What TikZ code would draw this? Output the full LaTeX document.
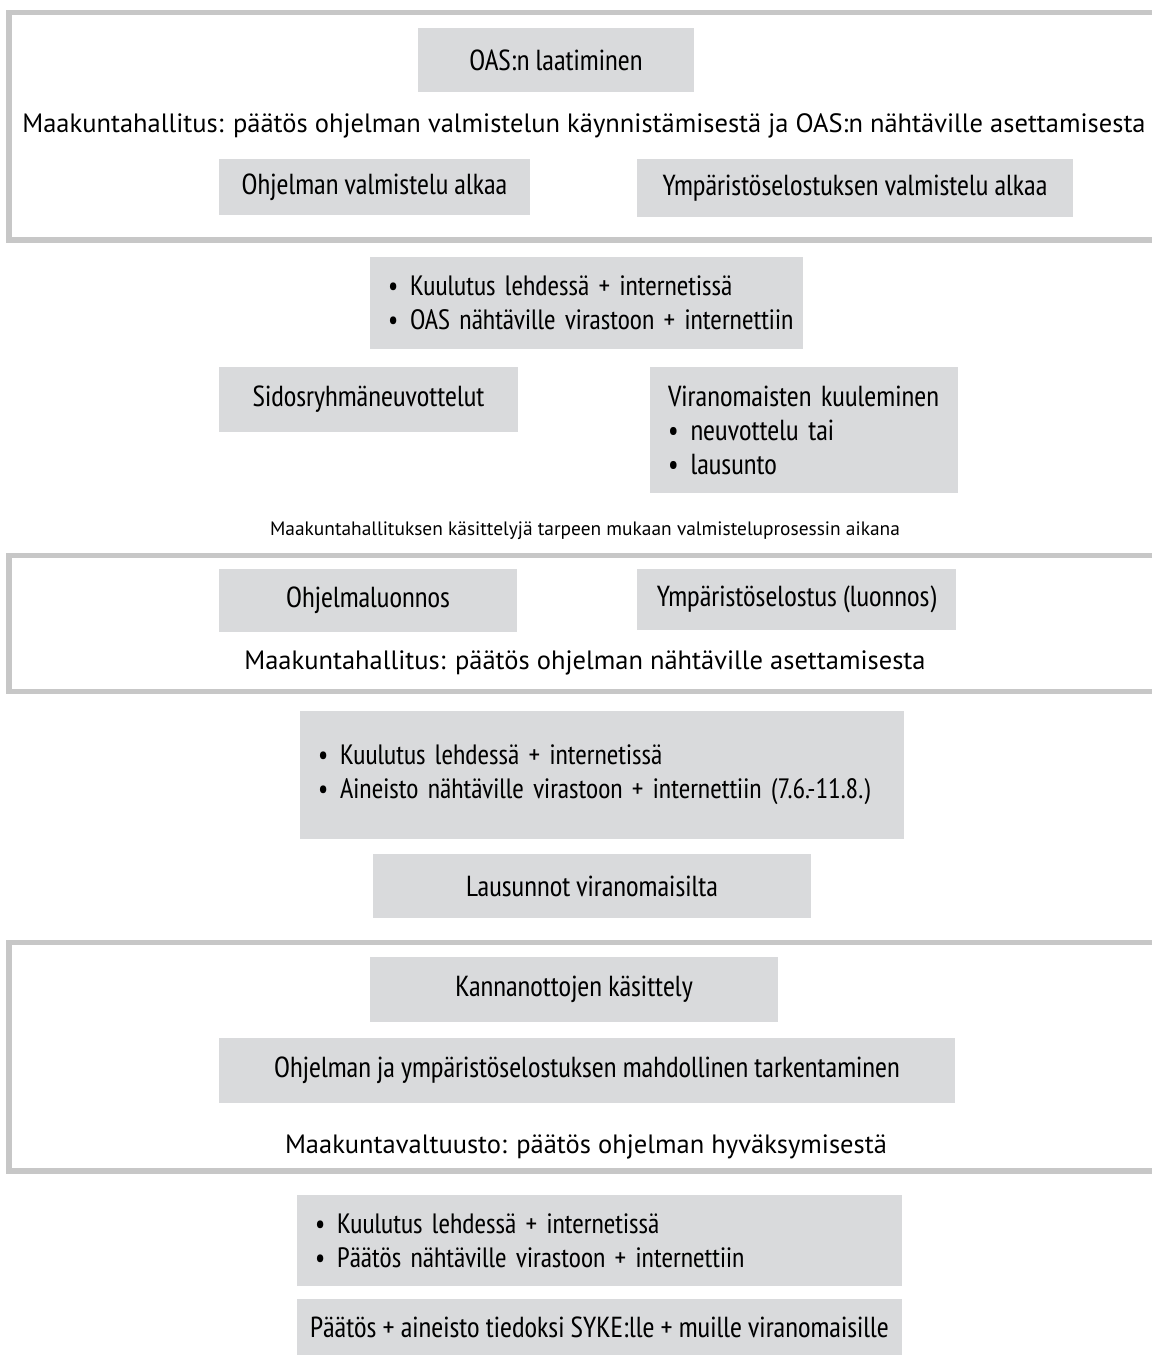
\documentclass[tikz,border=0pt]{standalone}
\usepackage{fontspec}
\IfFontExistsTF{PT Sans Narrow}{\setmainfont{PT Sans Narrow}}{\setmainfont{DejaVu Sans Condensed}}
\newfontfamily\headfamily{PT Sans}
\usetikzlibrary{positioning}
\definecolor{boxgray}{RGB}{217,218,220}
\definecolor{framegray}{RGB}{199,199,199}
\newcommand{\headfont}{\headfamily\fontsize{26.5}{33}\selectfont}
\newcommand{\boxfont}{\fontsize{29}{34}\selectfont}
\newcommand{\listfont}{\fontsize{28}{34}\selectfont}
\newcommand{\notefont}{\headfamily\fontsize{19.4}{24}\selectfont}
\newcommand{\bulletline}[1]{\mbox{\textbullet\hspace{12pt}#1}}

\begin{document}
\begin{tikzpicture}[x=1pt,y=-1pt,
  stage/.style={framegray, line width=5.5pt},
  graybox/.style={fill=boxgray, inner sep=0pt, font=\boxfont, align=center},
  listbox/.style={fill=boxgray, inner xsep=18pt, inner ysep=0pt, font=\listfont, align=left},
  heading/.style={font=\headfont, anchor=base, inner sep=0pt}]

\useasboundingbox (0,0) rectangle (1152,1355);

%% ── STAGE 1: start of the programme ──────────────────────────────────────
\draw[stage] (1152,12.5) -- (9,12.5) -- (9,240) -- (1152,240);
\node[graybox, minimum width=276pt, minimum height=64pt] (oas) at (556,60) {OAS:n laatiminen};
\node[heading] (mh1) at (584,132)
  {Maakuntahallitus: päätös ohjelman valmistelun käynnistämisestä ja OAS:n nähtäville asettamisesta};
\node[graybox, minimum width=311pt, minimum height=56pt] (ohj) at (374.5,187) {Ohjelman valmistelu alkaa};
\node[graybox, minimum width=436pt, minimum height=58pt] (ymp) at (855,188) {Ympäristöselostuksen valmistelu alkaa};

%% ── Between stages 1 and 2 ───────────────────────────────────────────────
\node[listbox, text width=397pt, minimum height=92pt] (kuul1) at (586.5,303)
  {\bulletline{Kuulutus lehdessä + internetissä}\\
   \bulletline{OAS nähtäville virastoon + internettiin}};
\node[graybox, minimum width=299pt, minimum height=65pt] (sidos) at (368.5,399.5) {Sidosryhmäneuvottelut};
\node[listbox, font=\boxfont, text width=272pt, minimum height=126pt] (viran) at (804,430)
  {Viranomaisten kuuleminen\\
   \bulletline{neuvottelu tai}\\
   \bulletline{lausunto}};
\node[font=\notefont, anchor=base, inner sep=0pt] (note) at (585,535)
  {Maakuntahallituksen käsittelyjä tarpeen mukaan valmisteluprosessin aikana};

%% ── STAGE 2: draft on display ────────────────────────────────────────────
\draw[stage] (1152,555.5) -- (9,555.5) -- (9,691.5) -- (1152,691.5);
\node[graybox, minimum width=298pt, minimum height=63pt] (ohjl) at (368,600.5) {Ohjelmaluonnos};
\node[graybox, minimum width=319pt, minimum height=61pt] (ymplu) at (796.5,599.5) {Ympäristöselostus (luonnos)};
\node[heading] (mh2) at (585,669) {Maakuntahallitus: päätös ohjelman nähtäville asettamisesta};

%% ── Between stages 2 and 3 ───────────────────────────────────────────────
\node[listbox, text width=568pt, minimum height=128pt] (kuul2) at (602,775)
  {\bulletline{Kuulutus lehdessä + internetissä}\\
   \bulletline{Aineisto nähtäville virastoon + internettiin (7.6.-11.8.)}};
\node[graybox, minimum width=438pt, minimum height=64pt] (laus) at (592,886) {Lausunnot viranomaisilta};

%% ── STAGE 3: approval ────────────────────────────────────────────────────
\draw[stage] (1152,942.5) -- (9,942.5) -- (9,1171) -- (1152,1171);
\node[graybox, minimum width=408pt, minimum height=65pt] (kann) at (574,989.5) {Kannanottojen käsittely};
\node[graybox, minimum width=736pt, minimum height=65pt] (tark) at (587,1070.5)
  {Ohjelman ja ympäristöselostuksen mahdollinen tarkentaminen};
\node[heading] (mv) at (586,1153) {Maakuntavaltuusto: päätös ohjelman hyväksymisestä};

%% ── After approval ───────────────────────────────────────────────────────
\node[listbox, text width=569pt, minimum height=91pt] (kuul3) at (599.5,1240.5)
  {\bulletline{Kuulutus lehdessä + internetissä}\\
   \bulletline{Päätös nähtäville virastoon + internettiin}};
\node[graybox, minimum width=605pt, minimum height=56pt] (paat) at (599.5,1327)
  {Päätös + aineisto tiedoksi SYKE:lle + muille viranomaisille};

\end{tikzpicture}
\end{document}
